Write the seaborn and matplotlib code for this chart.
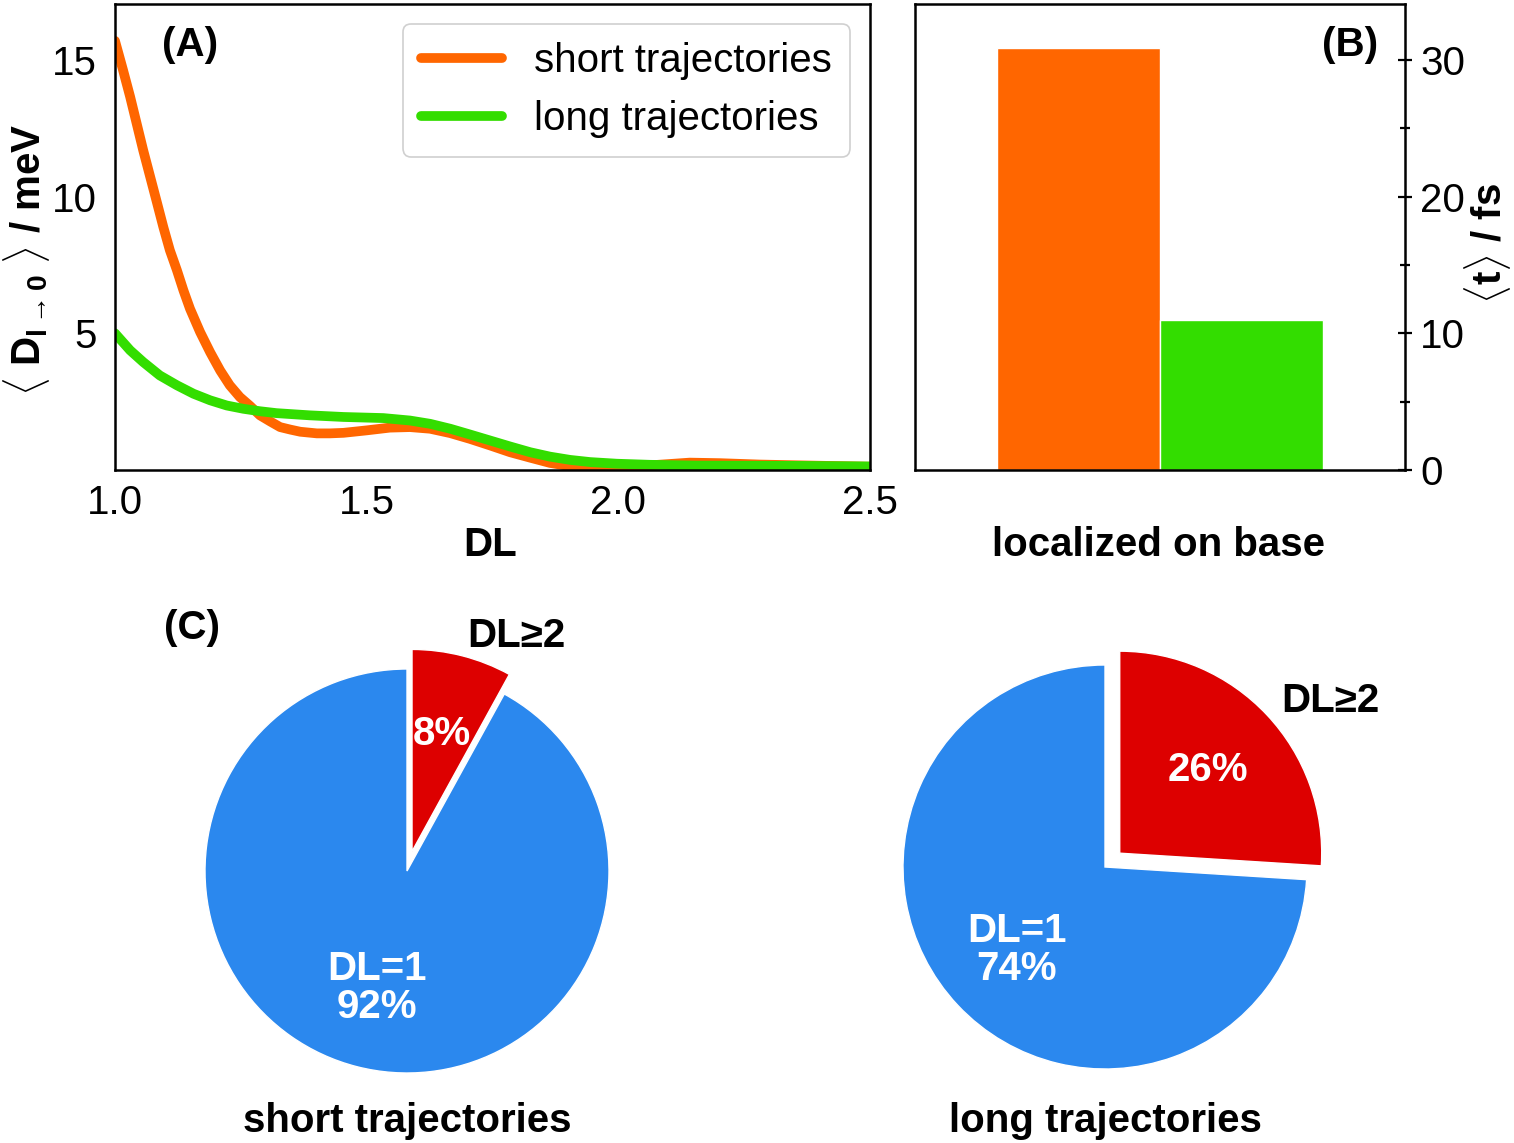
import numpy as np
import pandas as pd
import matplotlib
matplotlib.use("Agg")
import matplotlib.pyplot as plt
import seaborn as sns
from matplotlib.ticker import FixedLocator

# ---------------- data ----------------
dl_short = [1.000, 1.016, 1.030, 1.043, 1.056, 1.070, 1.083, 1.096, 1.109, 1.123,
            1.136, 1.149, 1.169, 1.189, 1.209, 1.228, 1.248, 1.268, 1.288, 1.308,
            1.328, 1.348, 1.368, 1.401, 1.427, 1.454, 1.500, 1.546, 1.586, 1.626,
            1.666, 1.705, 1.745, 1.785, 1.825, 1.864, 1.904, 1.944, 2.000, 2.063,
            2.142, 2.202, 2.280, 2.360, 2.500]
short_d = [15.70, 14.63, 13.66, 12.68, 11.70, 10.72, 9.81, 8.89, 8.04, 7.31,
           6.57, 5.90, 5.05, 4.31, 3.64, 3.10, 2.67, 2.35, 2.00, 1.78,
           1.57, 1.48, 1.40, 1.34, 1.34, 1.36, 1.45, 1.55, 1.57, 1.51,
           1.35, 1.14, 0.90, 0.65, 0.45, 0.26, 0.14, 0.10, 0.10, 0.17,
           0.27, 0.25, 0.20, 0.17, 0.12]
dl_long = [1.000, 1.030, 1.056, 1.089, 1.123, 1.156, 1.189, 1.222, 1.255, 1.288,
           1.321, 1.387, 1.454, 1.533, 1.586, 1.626, 1.666, 1.705, 1.745, 1.785,
           1.825, 1.864, 1.904, 1.944, 1.997, 2.063, 2.156, 2.360, 2.500]
long_d = [5.00, 4.38, 3.95, 3.46, 3.10, 2.79, 2.55, 2.36, 2.24, 2.15,
          2.08, 2.00, 1.94, 1.90, 1.81, 1.69, 1.51, 1.30, 1.08, 0.86,
          0.65, 0.49, 0.37, 0.29, 0.23, 0.19, 0.16, 0.15, 0.13]
groups = ["short trajectories", "long trajectories"]
bar_category = ["localized on base"]
mean_time = [30.9, 11.0]
pie_labels = ["DL≥2", "DL=1"]
pie_short = [8, 92]
pie_long = [26, 74]

orange = "#ff6600"
green = "#33dd00"
red = "#dd0000"
blue = "#2b88ee"

# ---------------- style ----------------
sns.set_theme(style="white")
plt.rcParams.update({
    "font.family": ["Liberation Sans", "DejaVu Sans"],
    "font.size": 29,
    "axes.edgecolor": "black",
    "axes.linewidth": 1.8,
    "mathtext.fontset": "custom",
    "mathtext.rm": "Liberation Sans",
    "mathtext.bf": "Liberation Sans:bold",
    "mathtext.it": "Liberation Sans:italic",
    "mathtext.sf": "Liberation Sans",
    "xtick.color": "black",
    "ytick.color": "black",
    "text.color": "black",
    "axes.labelcolor": "black",
    "lines.solid_joinstyle": "round",
})

W, H = 1514, 1143
fig = plt.figure(figsize=(W / 100, H / 100), dpi=100)

def fx(px):
    return px / W

def fy(py):
    return 1 - py / H

FS = 29

def style_ticks(ax):
    ax.tick_params(which="major", direction="inout", length=10, width=1.6,
                   labelsize=FS, pad=5)
    ax.tick_params(which="minor", direction="inout", length=6.5, width=1.6)

# ---------------- panel A ----------------
axA = fig.add_axes([fx(115), fy(470), fx(755), 466 / H])
df_line = pd.DataFrame({
    "DL": dl_short + dl_long,
    "D": short_d + long_d,
    "group": [groups[0]] * len(dl_short) + [groups[1]] * len(dl_long),
})
sns.lineplot(data=df_line, x="DL", y="D", hue="group", hue_order=groups,
             palette=[orange, green], linewidth=7, ax=axA, legend=False,
             estimator=None, sort=True, solid_joinstyle="round")
axA.set_xlim(1.0, 2.5)
axA.set_ylim(0, 17.05)
axA.xaxis.set_major_locator(FixedLocator([1.0, 1.5, 2.0, 2.5]))
axA.xaxis.set_minor_locator(FixedLocator([1.25, 1.75, 2.25]))
axA.yaxis.set_major_locator(FixedLocator([5, 10, 15]))
axA.yaxis.set_minor_locator(FixedLocator([2.5, 7.5, 12.5]))
axA.set_xticklabels(["1.0", "1.5", "2.0", "2.5"])
axA.set_yticklabels(["5", "10", "15"])
style_ticks(axA)
axA.tick_params(axis="y", which="major", pad=8)
axA.set_xlabel("DL", fontweight="bold", fontsize=FS)
axA.xaxis.set_label_coords(0.497, -0.121)
axA.set_ylabel(r"$\langle\ \mathbf{D}_{\mathbf{l}\rightarrow\mathbf{0}}\ \rangle$ / meV",
               fontweight="bold", fontsize=FS)
axA.yaxis.set_label_coords(-0.083, 0.45)
handles = axA.get_lines()[:2]
leg = axA.legend(handles, groups, loc="upper right", fontsize=FS, frameon=True,
                 fancybox=True, edgecolor="#d0d0d0", framealpha=1.0,
                 handlelength=2.0, labelspacing=0.5, borderpad=0.45,
                 handletextpad=0.8, borderaxespad=0.5)
leg.get_frame().set_linewidth(1.2)
axA.text(0.10, 0.912, "(A)", transform=axA.transAxes, ha="center", va="center",
         fontweight="bold", fontsize=FS)

# ---------------- panel B ----------------
axB = fig.add_axes([fx(915), fy(470), fx(490), 466 / H])
df_bar = pd.DataFrame({
    "state": bar_category * len(groups),
    "group": groups,
    "time": mean_time,
})
sns.barplot(data=df_bar, x="state", y="time", hue="group", hue_order=groups,
            palette=[orange, green], saturation=1, width=0.8, ax=axB,
            legend=False, errorbar=None)
axB.set_xlim(-0.601, 0.601)
axB.set_ylim(0, 34.1)
axB.yaxis.tick_right()
axB.yaxis.set_label_position("right")
axB.yaxis.set_major_locator(FixedLocator([0, 10, 20, 30]))
axB.yaxis.set_minor_locator(FixedLocator([5, 15, 25]))
axB.set_yticklabels(["0", "10", "20", "30"])
axB.set_xticks([0])
axB.set_xticklabels([""])
style_ticks(axB)
axB.tick_params(axis="y", which="major", pad=6)
axB.set_xlabel(bar_category[0], fontweight="bold", fontsize=FS)
axB.xaxis.set_label_coords(0.496, -0.121)
axB.set_ylabel(r"$\langle\mathbf{t}\rangle$ / fs", fontweight="bold", fontsize=FS,
               rotation=90)
axB.yaxis.set_label_coords(1.117, 0.487)
axB.text(0.888, 0.912, "(B)", transform=axB.transAxes, ha="center", va="center",
         fontweight="bold", fontsize=FS)

# ---------------- panel C (pies) ----------------
half = 252.5
pie_specs = [
    (407, 871, pie_short, groups[0], 0.004),
    (1105, 867, pie_long, groups[1], -0.002),
]
for cx, cy, vals, title, ty in pie_specs:
    ax = fig.add_axes([fx(cx - half), fy(cy + half), fx(2 * half), 2 * half / H])
    wedges, texts, autotexts = ax.pie(
        vals, explode=[0.1, 0], labels=[pie_labels[0], ""], colors=[red, blue],
        startangle=90, counterclock=False,
        autopct=lambda p: f"{p:.0f}%", pctdistance=0.6, labeldistance=1.1,
        textprops=dict(fontsize=FS, fontweight="bold"))
    for t in autotexts:
        t.set_color("white")
    autotexts[1].set_text(pie_labels[1] + "\n" + autotexts[1].get_text())
    autotexts[1].set_linespacing(1.0)
    ax.set_xlim(-1.25, 1.25)
    ax.set_ylim(-1.25, 1.25)
    ax.set_aspect("equal")
    ax.text(0.5, ty, title, transform=ax.transAxes, ha="center", va="center",
            fontweight="bold", fontsize=FS)

fig.text(fx(192), fy(628), "(C)", ha="center", va="center", fontweight="bold",
         fontsize=FS)

fig.savefig("out.png", dpi=100)
